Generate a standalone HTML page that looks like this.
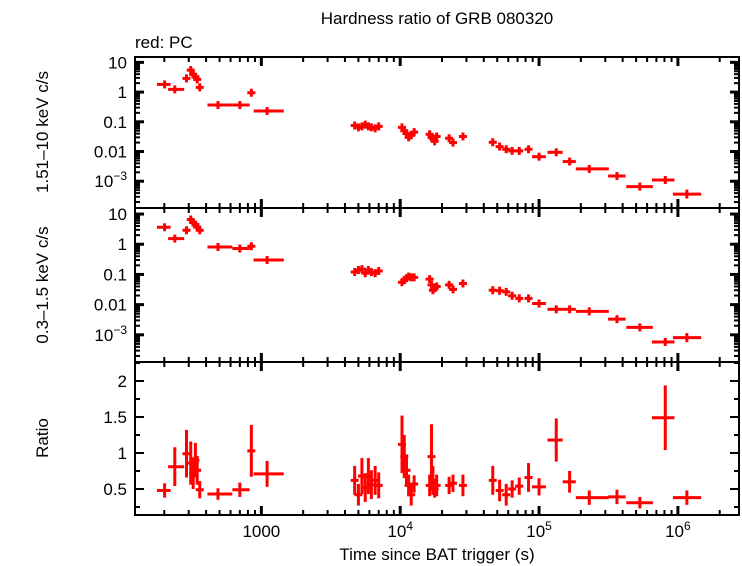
<!DOCTYPE html>
<html><head><meta charset="utf-8"><style>
html,body{margin:0;padding:0;background:#fff;}
svg{display:block;font-family:"Liberation Sans",sans-serif;}
</style></head><body>
<svg id="chart" width="742" height="566" viewBox="0 0 742 566" xmlns="http://www.w3.org/2000/svg">
<text x="437" y="24" font-size="17" text-anchor="middle">Hardness ratio of GRB 080320</text>
<text x="135" y="48" font-size="17">red: PC</text>
<text transform="translate(48,132) rotate(-90)" font-size="17" text-anchor="middle">1.51–10 keV c/s</text>
<text transform="translate(48,285) rotate(-90)" font-size="17" text-anchor="middle">0.3–1.5 keV c/s</text>
<text transform="translate(48,438) rotate(-90)" font-size="17" text-anchor="middle">Ratio</text>
<text x="437" y="560" font-size="17" text-anchor="middle">Time since BAT trigger (s)</text>
<g id="g"></g>
</svg>
<script>
const times = [201,238,289,310,323,335,345,360,487,700,847,1100,
 4700,5000,5300,5600,5900,6200,6600,7000,
 10300,10700,11100,11500,12000,12600,
 16300,16800,17200,17700,18300,22500,24000,28300,
 46400,52000,58000,64000,72000,84000,100000,133000,166000,230000,364000,532000,811000,1160000];
const timeLo = [177,213,272,303,318,330,340,349,409,618,830,880,
 4600,4900,5200,5500,5800,6100,6500,6850,
 10100,10500,10900,11300,11800,12300,
 16000,16500,17000,17400,18000,22000,23500,27700,
 45000,50500,56500,62000,70000,81000,89000,115000,148000,184000,314000,425000,650000,920000];
const timeHi = [222,278,305,318,330,340,350,372,618,824,865,1450,
 4800,5100,5400,5700,6000,6300,6700,7150,
 10500,10900,11300,11700,12200,12900,
 16600,17000,17400,18000,18600,23000,24500,28900,
 47800,53500,59500,66000,74000,87000,112000,148000,184000,318000,420000,660000,945000,1470000];
const hardRate = [1.81,1.23,2.88,5.5,3.9,3.27,2.67,1.44,0.366,0.366,0.95,0.23,
 0.075,0.065,0.07,0.08,0.07,0.065,0.06,0.07,
 0.065,0.05,0.04,0.03,0.035,0.045,
 0.038,0.03,0.028,0.022,0.032,0.028,0.02,0.032,
 0.0205,0.0146,0.0119,0.0105,0.0105,0.0119,0.0067,0.0094,0.0046,0.0026,0.0015,0.00066,0.0011,0.00037];
const softRate = [3.65,1.54,2.9,6.6,5.2,4.5,3.7,2.9,0.81,0.72,0.86,0.30,
 0.12,0.14,0.15,0.11,0.14,0.12,0.11,0.13,
 0.055,0.065,0.075,0.085,0.08,0.08,
 0.07,0.045,0.03,0.035,0.04,0.045,0.032,0.05,
 0.030,0.029,0.0265,0.0196,0.0161,0.0161,0.0109,0.0070,0.0070,0.0060,0.0033,0.00176,0.00058,0.00081];
const rateErrDex = [0.1,0.1,0.12,0.1,0.1,0.1,0.1,0.1,0.08,0.08,0.12,0.08,
 0.1,0.1,0.1,0.1,0.1,0.1,0.1,0.1,
 0.12,0.12,0.12,0.12,0.12,0.12,
 0.12,0.12,0.12,0.12,0.12,0.12,0.12,0.12,
 0.1,0.1,0.1,0.1,0.1,0.1,0.1,0.1,0.1,0.1,0.1,0.12,0.12,0.15];
const ratio = [0.48,0.81,0.99,0.86,0.72,0.9,0.76,0.49,0.43,0.49,1.03,0.71,
 0.62,0.42,0.68,0.52,0.68,0.56,0.62,0.55,
 1.12,0.95,0.76,0.55,0.42,0.57,
 0.55,0.95,0.62,0.5,0.55,0.55,0.58,0.55,
 0.62,0.48,0.42,0.5,0.54,0.66,0.53,1.18,0.6,0.38,0.39,0.31,1.49,0.38];
const ratioErr = [0.1,0.27,0.33,0.3,0.22,0.24,0.2,0.12,0.08,0.1,0.36,0.18,
 0.2,0.15,0.25,0.2,0.25,0.2,0.2,0.18,
 0.4,0.3,0.22,0.15,0.15,0.12,
 0.15,0.45,0.2,0.12,0.15,0.12,0.12,0.15,
 0.2,0.15,0.15,0.12,0.12,0.2,0.12,0.3,0.15,0.1,0.1,0.08,0.45,0.1];

const NS="http://www.w3.org/2000/svg";
const g=document.getElementById('g');
const L=135,R=739;
const xLogMin=2.09,xLogMax=6.44;
function X(t){return L+(Math.log10(t)-xLogMin)/(xLogMax-xLogMin)*(R-L);}
const panels=[
 {top:57,bot:208,log:true,min:-3.9,max:1.18,name:'hard'},
 {top:208,bot:362,log:true,min:-3.9,max:1.2,name:'soft'},
 {top:362,bot:515,log:false,min:0.139,max:2.264,name:'ratio'}];
function Y(p,v){const u=p.log?Math.log10(v):v;return p.bot-(u-p.min)/(p.max-p.min)*(p.bot-p.top);}
function el(tag,attrs){const e=document.createElementNS(NS,tag);for(const k in attrs)e.setAttribute(k,attrs[k]);g.appendChild(e);return e;}
function line(x1,y1,x2,y2,c,w){return el('line',{x1,y1,x2,y2,stroke:c,'stroke-width':w});}

panels.forEach(p=>{
 for(let d=2;d<=6;d++){for(let m=1;m<10;m++){const t=m*Math.pow(10,d);const lt=Math.log10(t);if(lt<xLogMin||lt>xLogMax)continue;
  const x=X(t);const len=m===1?9:5;const w=m===1?3:2;
  const a=line(x,p.top,x,p.top+len,'#000',w);
  
  const b=line(x,p.bot,x,p.bot-len,'#000',w);
  }}
 if(p.log){for(let d=-4;d<=1;d++){for(let m=1;m<10;m++){const v=m*Math.pow(10,d);const lv=Math.log10(v);if(lv<p.min||lv>p.max)continue;
  const y=Y(p,v);const len=m===1?9:5;const w=m===1?3:2;
  const a=line(L,y,L+len,y,'#000',w);
  const b=line(R,y,R-len,y,'#000',w);}}
  [[10,'10'],[1,'1'],[0.1,'0.1'],[0.01,'0.01']].forEach(([v,s])=>{const t=el('text',{x:L-8,y:Y(p,v)+6,'font-size':17,'text-anchor':'end'});t.textContent=s;
   });
  const t=el('text',{x:L-8,y:Y(p,0.001)+6,'font-size':17,'text-anchor':'end'});
  
  t.innerHTML='10<tspan dy="-7" font-size="12">−3</tspan>';
 } else {
  for(let v=0.25;v<=2.25;v+=0.25){const y=Y(p,v);const maj=Math.abs(v*2-Math.round(v*2))<1e-6;const len=maj?9:5;
   const a=line(L,y,L+len,y,'#000',2);
   const b=line(R,y,R-len,y,'#000',2);
   if(maj&&v>=0.5){const t=el('text',{x:L-8,y:y+6,'font-size':17,'text-anchor':'end'});t.textContent=String(v);
    }}
 }
 const fr=el('rect',{x:L,y:p.top,width:R-L,height:p.bot-p.top,fill:'none',stroke:'#000','stroke-width':2});
 
 times.forEach((t,i)=>{
  const x=X(t);let x1=X(timeLo[i]),x2=X(timeHi[i]);
  x1=Math.min(x1,x-4);x2=Math.max(x2,x+4);
  let y,y1,y2;
  if(p.name==='ratio'){y=Y(p,ratio[i]);y1=Y(p,ratio[i]-ratioErr[i]);y2=Y(p,ratio[i]+ratioErr[i]);}
  else{const v=p.name==='hard'?hardRate[i]:softRate[i];const e=Math.pow(10,rateErrDex[i]);y=Y(p,v);y1=Y(p,v/e);y2=Y(p,v*e);}
  y1=Math.max(y1,y+4);y2=Math.min(y2,y-4);
  const h=line(x1,y,x2,y,'#ff0000',3);
  
  const v=line(x,y1,x,y2,'#ff0000',3);
  
 });
});
const p3=panels[2];
[[1000,'1000'],[1e4,'4'],[1e5,'5'],[1e6,'6']].forEach(([t,s])=>{
 const tx=el('text',{x:X(t),y:p3.bot+22,'font-size':17,'text-anchor':'middle'});
 
 if(t===1000)tx.textContent=s;else tx.innerHTML='10<tspan dy="-7" font-size="12">'+s+'</tspan>';
});
</script>
</body></html>
